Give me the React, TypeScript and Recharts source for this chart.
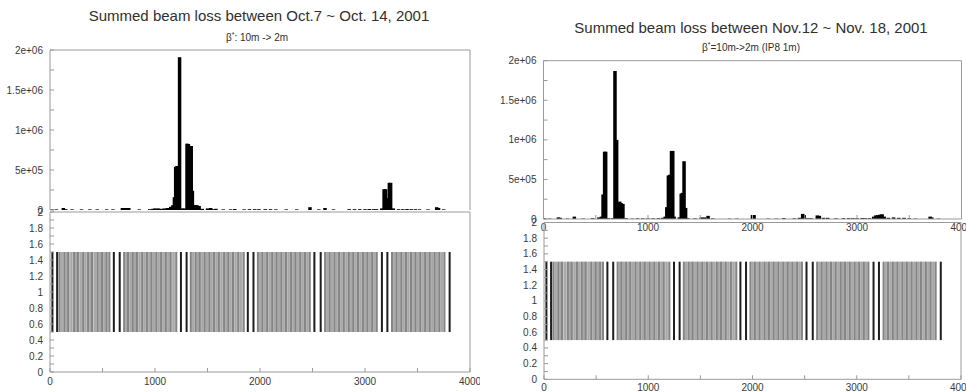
import React from 'react';
import { ComposedChart, Bar, Area, Line, XAxis, YAxis } from 'recharts';

// ---------- data ----------
const xTicks = [0, 500, 1000, 1500, 2000, 2500, 3000, 3500, 4000];
const lossTicks = [0, 250000, 500000, 750000, 1000000, 1250000, 1500000, 1750000, 2000000];
const lossTickLabels: Record<number, string> = { 0: '0', 500000: '5e+05', 1000000: '1e+06', 1500000: '1.5e+06', 2000000: '2e+06' };
const monTicks = [0, 0.1, 0.2, 0.3, 0.4, 0.5, 0.6, 0.7, 0.8, 0.9, 1, 1.1, 1.2, 1.3, 1.4, 1.5, 1.6, 1.7, 1.8, 1.9, 2];

// Oct.7 ~ Oct.14 summed loss
const octX = [20, 60, 127, 150, 210, 300, 380, 450, 540, 600, 690, 710, 730, 750, 850, 950, 980, 1000, 1030, 1060, 1090, 1120, 1150, 1170, 1185, 1197, 1210, 1234, 1255, 1280, 1305, 1318, 1332, 1345, 1356, 1370, 1385, 1400, 1420, 1450, 1500, 1530, 1550, 1580, 1650, 1720, 1760, 1850, 1900, 1950, 1990, 2050, 2100, 2150, 2250, 2350, 2476, 2560, 2619, 2700, 2850, 2900, 2950, 3000, 3040, 3080, 3110, 3160, 3182, 3196, 3210, 3232, 3244, 3270, 3320, 3360, 3400, 3440, 3480, 3520, 3600, 3683, 3700, 3750];
const octY = [8000, 8000, 25000, 10000, 8000, 8000, 8000, 8000, 8000, 8000, 25000, 25000, 25000, 25000, 8000, 10000, 15000, 20000, 20000, 15000, 20000, 25000, 40000, 60000, 160000, 540000, 550000, 1910000, 20000, 20000, 830000, 825000, 800000, 800000, 240000, 60000, 60000, 60000, 50000, 15000, 20000, 25000, 10000, 15000, 8000, 8000, 12000, 8000, 10000, 10000, 10000, 10000, 10000, 8000, 8000, 8000, 35000, 8000, 25000, 8000, 10000, 10000, 10000, 10000, 12000, 10000, 10000, 20000, 260000, 260000, 150000, 340000, 340000, 20000, 10000, 10000, 12000, 10000, 10000, 8000, 8000, 35000, 25000, 8000];

// Nov.12 ~ Nov.18 summed loss
const novX = [5, 60, 142, 160, 230, 295, 380, 470, 530, 555, 570, 585, 595, 620, 660, 684, 700, 715, 730, 745, 760, 790, 850, 900, 950, 1000, 1050, 1100, 1140, 1165, 1180, 1195, 1210, 1225, 1237, 1250, 1300, 1318, 1330, 1345, 1360, 1380, 1450, 1510, 1540, 1575, 1620, 1780, 1850, 2000, 2015, 2150, 2230, 2300, 2400, 2450, 2480, 2495, 2530, 2560, 2620, 2640, 2680, 2720, 2800, 2870, 2920, 2960, 3000, 3050, 3080, 3120, 3160, 3180, 3200, 3220, 3240, 3260, 3300, 3350, 3400, 3450, 3500, 3560, 3700, 3715, 3780];
const novY = [10000, 5000, 20000, 15000, 5000, 30000, 5000, 10000, 20000, 30000, 310000, 850000, 850000, 10000, 10000, 1870000, 1000000, 200000, 220000, 200000, 190000, 10000, 5000, 8000, 8000, 8000, 8000, 10000, 15000, 30000, 150000, 550000, 560000, 860000, 860000, 30000, 20000, 320000, 330000, 730000, 140000, 10000, 8000, 20000, 20000, 40000, 8000, 5000, 5000, 50000, 50000, 5000, 5000, 12000, 8000, 15000, 65000, 50000, 10000, 10000, 45000, 40000, 15000, 15000, 8000, 10000, 10000, 10000, 10000, 12000, 10000, 10000, 30000, 45000, 50000, 55000, 60000, 30000, 15000, 20000, 15000, 15000, 10000, 5000, 30000, 20000, 5000];

// loss-monitor positions (lower panels)
const arcStart = [90, 706, 1341, 1980, 2620, 3257];
const arcEnd = [570, 1207, 1849, 2478, 3116, 3761];
const monBlack = [25, 70, 610, 666, 1249, 1303, 1886, 1940, 2520, 2580, 3163, 3215, 3808];
const monDark = [92, 140, 175, 232, 268, 318, 365, 402, 455, 498, 540, 568,
  708, 745, 790, 830, 880, 925, 968, 1015, 1060, 1105, 1150, 1205,
  1343, 1390, 1428, 1475, 1520, 1565, 1610, 1660, 1700, 1745, 1795, 1847,
  1982, 2025, 2070, 2118, 2160, 2205, 2250, 2298, 2340, 2385, 2430, 2476,
  2622, 2665, 2712, 2755, 2800, 2848, 2890, 2935, 2982, 3025, 3070, 3114,
  3259, 3302, 3348, 3392, 3440, 3483, 3528, 3575, 3618, 3665, 3710, 3759];
const monMid = [115, 158, 205, 250, 295, 340, 385, 430, 478, 520,
  728, 768, 812, 855, 902, 948, 992, 1038, 1082, 1128, 1178,
  1365, 1410, 1452, 1498, 1542, 1588, 1635, 1680, 1722, 1770, 1820,
  2003, 2048, 2095, 2140, 2183, 2228, 2275, 2320, 2362, 2408, 2453,
  2643, 2688, 2733, 2778, 2825, 2870, 2912, 2958, 3003, 3048, 3092,
  3280, 3325, 3370, 3415, 3462, 3505, 3552, 3596, 3642, 3688, 3735];
const monLow = 0.5;
const monHigh = 1.5;

// ---------- styles ----------
const FONT = '"Liberation Sans", Arial, Helvetica, sans-serif';
const AXIS = { stroke: '#9a9a9a', strokeWidth: 1 };
const TICK = { fill: '#3a3a3a', fontSize: 10, fontFamily: FONT };
const kindColor: Record<string, string> = { loss: '#000000', black: '#1e1e1e', dark: '#858585', mid: '#a8a8a8' };

const lossData = (xs: number[], ys: number[]) => xs.map((x, i) => ({ x, loss: ys[i], kind: 'loss' }));
const monData = [
  ...monBlack.map((x) => ({ x, span: [monLow, monHigh], kind: 'black' })),
  ...monDark.map((x) => ({ x, span: [monLow, monHigh], kind: 'dark' })),
  ...monMid.map((x) => ({ x, span: [monLow, monHigh], kind: 'mid' })),
].sort((a, b) => a.x - b.x);
const arcData = arcStart.flatMap((s, i) => [
  { x: s, band: [monLow, monHigh] },
  { x: arcEnd[i], band: [monLow, monHigh] },
  { x: arcEnd[i], band: null },
]);

const xFmt = (v: number) => (v % 1000 === 0 ? String(v) : '');
const lossFmt = (v: number) => lossTickLabels[v] ?? '';
const monFmt = (v: number) => (Math.round(v * 10) % 2 === 0 ? String(Number(v.toFixed(1))) : '');

// fixed-width impulse drawn at the bar's scaled centre
const impulse = (w: number) => (p: any) => {
  const cx = p.x + p.width / 2;
  const top = Math.min(p.y, p.y + p.height);
  const h = Math.abs(p.height);
  return <rect x={cx - w / 2} y={top} width={w} height={h} fill={kindColor[p.payload?.kind] ?? '#000'} />;
};

type Box = { left: number; top: number; width: number; height: number; margin: any; yWidth: number; xHeight: number; xTickMargin: number; showX: boolean };

function Frame(props: { box: Box; children: React.ReactNode; data: any[]; yDomain: number[]; yTicks: number[]; yFmt: (v: number) => string }) {
  const { box, data } = props;
  return (
    <div style={{ position: 'absolute', left: box.left, top: box.top, width: box.width, height: box.height }}>
      <ComposedChart width={box.width} height={box.height} data={data} margin={box.margin}>
        <XAxis xAxisId="b" dataKey="x" type="number" domain={[0, 4000]} ticks={xTicks} interval={0}
          orientation="bottom" height={box.xHeight} tickSize={-4} tickMargin={box.xTickMargin}
          axisLine={AXIS} tickLine={AXIS} tick={box.showX ? TICK : false} tickFormatter={xFmt} allowDataOverflow />
        <XAxis xAxisId="t" dataKey="x" type="number" domain={[0, 4000]} ticks={xTicks} interval={0}
          orientation="top" height={1} tickSize={-4} axisLine={AXIS} tickLine={AXIS} tick={false} allowDataOverflow />
        <YAxis yAxisId="l" type="number" domain={props.yDomain} ticks={props.yTicks} interval={0}
          width={box.yWidth} tickSize={-4} tickMargin={11} axisLine={AXIS} tickLine={AXIS} tick={TICK}
          tickFormatter={props.yFmt} allowDataOverflow />
        <YAxis yAxisId="r" orientation="right" type="number" domain={props.yDomain} ticks={props.yTicks} interval={0}
          width={1} tickSize={-4} axisLine={AXIS} tickLine={AXIS} tick={false} allowDataOverflow />
        {props.children}
      </ComposedChart>
    </div>
  );
}

function LossPanel({ box, xs, ys }: { box: Box; xs: number[]; ys: number[] }) {
  return (
    <Frame box={box} data={lossData(xs, ys)} yDomain={[0, 2000000]} yTicks={lossTicks} yFmt={lossFmt}>
      <Line xAxisId="t" yAxisId="r" dataKey="loss" stroke="none" dot={false} activeDot={false}
        legendType="none" isAnimationActive={false} />
      <Bar xAxisId="b" yAxisId="l" dataKey="loss" fill="#000" shape={impulse(3.5)} isAnimationActive={false} />
    </Frame>
  );
}

function MonitorPanel({ box }: { box: Box }) {
  return (
    <Frame box={box} data={monData} yDomain={[0, 2]} yTicks={monTicks} yFmt={monFmt}>
      <Area xAxisId="t" yAxisId="r" data={arcData} dataKey="band" type="linear" fill="#c8c8c8" fillOpacity={1}
        stroke="none" dot={false} activeDot={false} isAnimationActive={false} />
      <Bar xAxisId="b" yAxisId="l" dataKey="span" shape={impulse(2)} isAnimationActive={false} />
    </Frame>
  );
}

function Title({ cx, cy, size, children }: { cx: number; cy: number; size: number; children: React.ReactNode }) {
  return (
    <div style={{ position: 'absolute', left: cx - 250, top: cy - size / 2, width: 500, textAlign: 'center',
      fontFamily: FONT, fontSize: size, lineHeight: `${size}px`, color: '#303030', whiteSpace: 'nowrap' }}>
      {children}
    </div>
  );
}

const Star = () => <span style={{ position: 'relative', top: -4, fontSize: 7 }}>*</span>;

export default function App() {
  const lt: Box = { left: 0, top: 40, width: 480, height: 182, margin: { top: 9, right: 9, bottom: 12, left: 0 }, yWidth: 50, xHeight: 0, xTickMargin: 10, showX: false };
  const lb: Box = { left: 0, top: 202, width: 480, height: 190, margin: { top: 9, right: 9, bottom: 0, left: 0 }, yWidth: 50, xHeight: 20, xTickMargin: 10, showX: true };
  const rt: Box = { left: 480, top: 50, width: 486, height: 184, margin: { top: 9.7, right: 3.5, bottom: 0, left: 0 }, yWidth: 63.5, xHeight: 15, xTickMargin: 9, showX: true };
  const rb: Box = { left: 480, top: 212, width: 486, height: 180, margin: { top: 9.5, right: 4, bottom: 0, left: 0 }, yWidth: 64, xHeight: 12.7, xTickMargin: 9, showX: true };
  return (
    <div style={{ position: 'absolute', left: 0, top: 0, width: 966, height: 392, background: '#fff', overflow: 'hidden' }}>
      <Title cx={259} cy={15} size={15}>Summed beam loss between Oct.7 ~ Oct. 14, 2001</Title>
      <Title cx={257} cy={38} size={10}>β<Star />: 10m -&gt; 2m</Title>
      <Title cx={751} cy={27} size={15}>Summed beam loss between Nov.12 ~ Nov. 18, 2001</Title>
      <Title cx={751} cy={48} size={10}>β<Star />=10m-&gt;2m (IP8 1m)</Title>
      <LossPanel box={lt} xs={octX} ys={octY} />
      <MonitorPanel box={lb} />
      <LossPanel box={rt} xs={novX} ys={novY} />
      <MonitorPanel box={rb} />
    </div>
  );
}
